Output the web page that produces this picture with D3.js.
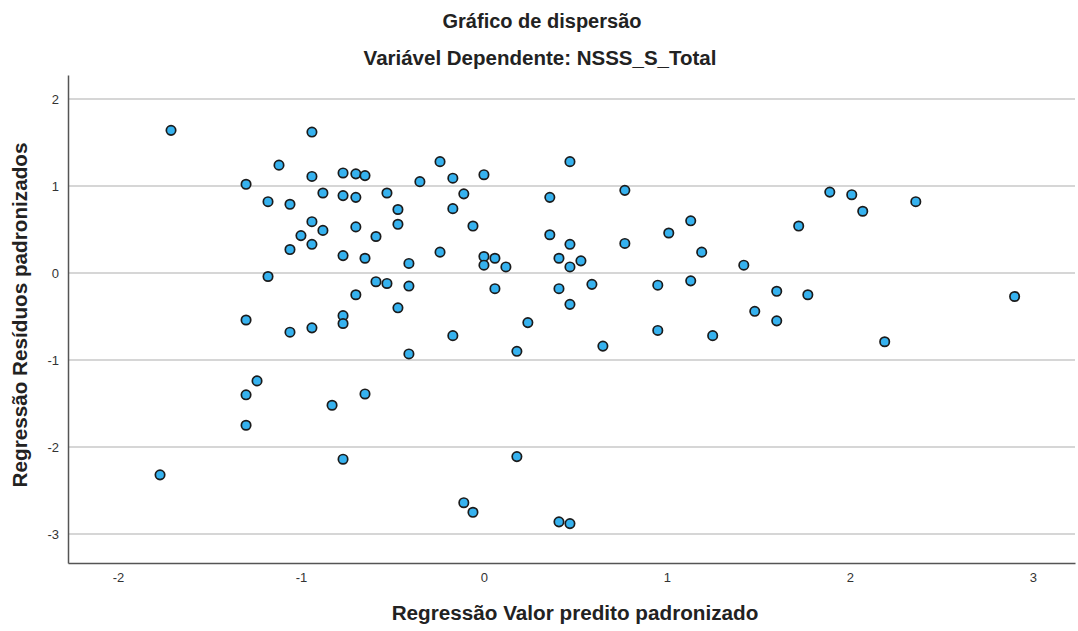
<!DOCTYPE html>
<html>
<head>
<meta charset="utf-8">
<script src="https://cdn.jsdelivr.net/npm/d3@7"></script>
<style>
  body { margin: 0; background: #fff; }
  text { font-family: "Liberation Sans", Arial, sans-serif; }
</style>
</head>
<body>
<div id="chart"></div>
<script>
const title = 'Gráfico de dispersão'
const subtitle = 'Variável Dependente: NSSS_S_Total'
const xLabel = 'Regressão Valor predito padronizado'
const yLabel = 'Regressão Resíduos padronizados'

const xTicks = [-2, -1, 0, 1, 2, 3]
const yTicks = [2, 1, 0, -1, -2, -3]

// valor predito padronizado
const predicted = [
  -1.71, -0.94, -1.12, -0.94, -0.77, -0.70, -0.65, -1.30, -0.88, -0.77,
  -0.70, -1.18, -1.06, -0.94, -0.88, -0.70, -0.59, -1.00, -0.94, -1.06,
  -0.77, -0.65, -1.18, -0.59, -0.70, -1.30, -1.06, -0.94, -0.77, -0.77,
  -1.24, -1.30, -0.65, -0.83, -1.30, -0.77, -1.77, -0.24, 0.47, -0.35,
  -0.17, 0.00, -0.53, -0.11, 0.36, 0.77, -0.47, -0.17, -0.47, -0.06,
  0.36, 0.47, 0.77, -0.24, -0.41, 0.00, 0.06, 0.00, 0.12, 0.41,
  0.53, 0.47, -0.53, -0.41, 0.06, 0.41, 0.59, -0.47, 0.47, 0.24,
  -0.17, 0.18, 0.65, -0.41, 0.18, -0.11, -0.06, 0.41, 0.47, 1.89,
  2.01, 2.07, 1.13, 1.01, 1.72, 1.19, 1.42, 0.95, 1.13, 1.60,
  1.77, 1.48, 1.60, 0.95, 1.25, 2.36, 2.90, 2.19
]

// resíduos padronizados
const residuals = [
  1.64, 1.62, 1.24, 1.11, 1.15, 1.14, 1.12, 1.02, 0.92, 0.89,
  0.87, 0.82, 0.79, 0.59, 0.49, 0.53, 0.42, 0.43, 0.33, 0.27,
  0.20, 0.17, -0.04, -0.10, -0.25, -0.54, -0.68, -0.63, -0.49, -0.58,
  -1.24, -1.40, -1.39, -1.52, -1.75, -2.14, -2.32, 1.28, 1.28, 1.05,
  1.09, 1.13, 0.92, 0.91, 0.87, 0.95, 0.73, 0.74, 0.56, 0.54,
  0.44, 0.33, 0.34, 0.24, 0.11, 0.19, 0.17, 0.09, 0.07, 0.17,
  0.14, 0.07, -0.12, -0.15, -0.18, -0.18, -0.13, -0.40, -0.36, -0.57,
  -0.72, -0.90, -0.84, -0.93, -2.11, -2.64, -2.75, -2.86, -2.88, 0.93,
  0.90, 0.71, 0.60, 0.46, 0.54, 0.24, 0.09, -0.14, -0.09, -0.21,
  -0.25, -0.44, -0.55, -0.66, -0.72, 0.82, -0.27, -0.79
]

const points = predicted.map((p, i) => ({ x: p, y: residuals[i] }))

const width = 1078
const height = 631
const margin = { top: 75, right: 3, bottom: 68, left: 68 }

const svg = d3.select('#chart')
  .append('svg')
  .attr('width', width)
  .attr('height', height)

const x = d3.scaleLinear()
  .domain([-2.273, 3.23])
  .range([margin.left, width - margin.right])

const y = d3.scaleLinear()
  .domain([-3.333, 2.276])
  .range([height - margin.bottom, margin.top])

// grid lines
svg.append('g')
  .selectAll('line')
  .data(yTicks)
  .join('line')
  .attr('x1', margin.left)
  .attr('x2', width - margin.right)
  .attr('y1', d => y(d))
  .attr('y2', d => y(d))
  .attr('stroke', '#c9c9c9')
  .attr('stroke-width', 1.5)

// axes
const fmt = d => String(d)

const xAxis = svg.append('g')
  .attr('transform', `translate(0, ${height - margin.bottom})`)
  .call(d3.axisBottom(x).tickValues(xTicks).tickFormat(fmt).tickSize(0).tickPadding(10))
xAxis.select('.domain').attr('stroke', '#555').attr('stroke-width', 1.5)
xAxis.selectAll('text').attr('font-size', 13).attr('fill', '#333')
  .style('font-family', '"Liberation Sans", Arial, sans-serif')

const yAxis = svg.append('g')
  .attr('transform', `translate(${margin.left}, 0)`)
  .call(d3.axisLeft(y).tickValues(yTicks).tickFormat(fmt).tickSize(0).tickPadding(9))
yAxis.select('.domain').attr('stroke', '#555').attr('stroke-width', 1.5)
yAxis.selectAll('text').attr('font-size', 13).attr('fill', '#333')
  .style('font-family', '"Liberation Sans", Arial, sans-serif')

// points
svg.append('g')
  .selectAll('circle')
  .data(points)
  .join('circle')
  .attr('cx', d => x(d.x))
  .attr('cy', d => y(d.y))
  .attr('r', 4.7)
  .attr('fill', '#36b2ef')
  .attr('stroke', '#1b1b1b')
  .attr('stroke-width', 1.7)

// titles
svg.append('text')
  .attr('x', 542)
  .attr('y', 28)
  .attr('text-anchor', 'middle')
  .attr('font-size', 20)
  .attr('font-weight', 'bold')
  .attr('fill', '#222')
  .text(title)

svg.append('text')
  .attr('x', 540)
  .attr('y', 65)
  .attr('text-anchor', 'middle')
  .attr('font-size', 20.5)
  .attr('font-weight', 'bold')
  .attr('fill', '#222')
  .text(subtitle)

svg.append('text')
  .attr('x', 575)
  .attr('y', 620)
  .attr('text-anchor', 'middle')
  .attr('font-size', 20.7)
  .attr('font-weight', 'bold')
  .attr('fill', '#222')
  .text(xLabel)

svg.append('text')
  .attr('transform', `translate(27, 315) rotate(-90)`)
  .attr('text-anchor', 'middle')
  .attr('font-size', 20.7)
  .attr('font-weight', 'bold')
  .attr('fill', '#222')
  .text(yLabel)
</script>
</body>
</html>
